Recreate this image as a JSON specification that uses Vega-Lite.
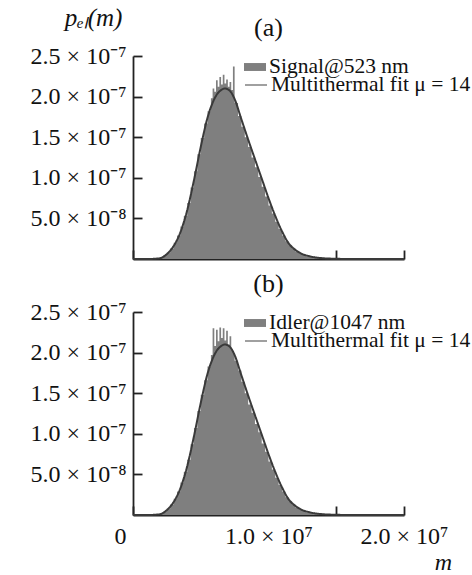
{
  "$schema": "https://vega.github.io/schema/vega-lite/v6.json",
  "padding": {"left": 30, "top": 5, "right": 0, "bottom": 0},
  "config": {
    "font": "Liberation Serif",
    "view": {"stroke": null},
    "axis": {"grid": false, "domainColor": "#222", "domainWidth": 1.8, "tickColor": "#222", "tickWidth": 1.8, "labelFont": "Liberation Serif", "labelFontSize": 24, "labelColor": "#111", "titleFont": "Liberation Serif", "titleColor": "#111", "titleFontWeight": "normal"},
    "title": {"font": "Liberation Serif", "fontSize": 26, "fontWeight": "normal", "color": "#111", "frame": "group"},
    "legend": {"title": null, "padding": 0, "labelFont": "Liberation Serif", "labelFontSize": 21.5, "labelColor": "#111", "labelOffset": 3, "labelLimit": 0, "symbolSize": 484}
  },
  "datasets": {
    "fit": [
      {"m": 0, "p": 0}, {"m": 1, "p": 0}, {"m": 1.5, "p": 0.002}, {"m": 2, "p": 0.01}, {"m": 2.5, "p": 0.06},
      {"m": 3, "p": 0.16}, {"m": 3.5, "p": 0.33}, {"m": 4, "p": 0.6}, {"m": 4.5, "p": 0.97}, {"m": 5, "p": 1.38},
      {"m": 5.5, "p": 1.74}, {"m": 6, "p": 1.97}, {"m": 6.25, "p": 2.04}, {"m": 6.5, "p": 2.08}, {"m": 6.75, "p": 2.1},
      {"m": 7, "p": 2.09}, {"m": 7.25, "p": 2.05}, {"m": 7.5, "p": 1.97}, {"m": 8, "p": 1.72}, {"m": 8.5, "p": 1.47},
      {"m": 9, "p": 1.23}, {"m": 9.5, "p": 0.99}, {"m": 10, "p": 0.75}, {"m": 10.5, "p": 0.53}, {"m": 11, "p": 0.34},
      {"m": 11.5, "p": 0.19}, {"m": 12, "p": 0.11}, {"m": 12.5, "p": 0.06}, {"m": 13, "p": 0.035}, {"m": 14, "p": 0.01},
      {"m": 15, "p": 0.003}, {"m": 16, "p": 0}, {"m": 20, "p": 0}
    ],
    "histA": [
      {"m": 0, "p": 0}, {"m": 1.5, "p": 0.003}, {"m": 1.75, "p": 0.008}, {"m": 2, "p": 0.02}, {"m": 2.25, "p": 0.045},
      {"m": 2.5, "p": 0.08}, {"m": 2.75, "p": 0.13}, {"m": 3, "p": 0.2}, {"m": 3.25, "p": 0.29}, {"m": 3.5, "p": 0.4},
      {"m": 3.75, "p": 0.53}, {"m": 4, "p": 0.69}, {"m": 4.25, "p": 0.88}, {"m": 4.5, "p": 1.08}, {"m": 4.75, "p": 1.29},
      {"m": 5, "p": 1.49}, {"m": 5.25, "p": 1.67}, {"m": 5.5, "p": 1.82}, {"m": 5.75, "p": 1.98}, {"m": 5.875, "p": 2.1},
      {"m": 6, "p": 2.06}, {"m": 6.125, "p": 2.2}, {"m": 6.25, "p": 2.12}, {"m": 6.375, "p": 2.24}, {"m": 6.5, "p": 2.15},
      {"m": 6.625, "p": 2.27}, {"m": 6.75, "p": 2.16}, {"m": 6.875, "p": 2.21}, {"m": 7, "p": 2.12}, {"m": 7.125, "p": 2.18},
      {"m": 7.25, "p": 2.08}, {"m": 7.375, "p": 2.37}, {"m": 7.5, "p": 1.92},
      {"m": 7.75, "p": 1.76}, {"m": 8, "p": 1.63}, {"m": 8.25, "p": 1.5}, {"m": 8.5, "p": 1.38},
      {"m": 8.75, "p": 1.25}, {"m": 9, "p": 1.13}, {"m": 9.25, "p": 1.01}, {"m": 9.5, "p": 0.89}, {"m": 9.75, "p": 0.77},
      {"m": 10, "p": 0.66}, {"m": 10.25, "p": 0.56}, {"m": 10.5, "p": 0.46}, {"m": 10.75, "p": 0.37}, {"m": 11, "p": 0.29},
      {"m": 11.25, "p": 0.22}, {"m": 11.5, "p": 0.17}, {"m": 11.75, "p": 0.125}, {"m": 12, "p": 0.09}, {"m": 12.25, "p": 0.07},
      {"m": 12.5, "p": 0.05}, {"m": 12.75, "p": 0.035}, {"m": 13, "p": 0.025}, {"m": 13.5, "p": 0.015}, {"m": 14, "p": 0.008},
      {"m": 14.5, "p": 0.004}, {"m": 15, "p": 0}, {"m": 20, "p": 0}
    ],
    "histB": [
      {"m": 0, "p": 0}, {"m": 1.5, "p": 0.003}, {"m": 1.75, "p": 0.007}, {"m": 2, "p": 0.02}, {"m": 2.25, "p": 0.04},
      {"m": 2.5, "p": 0.08}, {"m": 2.75, "p": 0.13}, {"m": 3, "p": 0.2}, {"m": 3.25, "p": 0.29}, {"m": 3.5, "p": 0.4},
      {"m": 3.75, "p": 0.53}, {"m": 4, "p": 0.68}, {"m": 4.25, "p": 0.87}, {"m": 4.5, "p": 1.07}, {"m": 4.75, "p": 1.28},
      {"m": 5, "p": 1.48}, {"m": 5.25, "p": 1.66}, {"m": 5.5, "p": 1.83}, {"m": 5.75, "p": 1.97}, {"m": 5.875, "p": 2.3},
      {"m": 6, "p": 2.08}, {"m": 6.125, "p": 2.28}, {"m": 6.25, "p": 2.14}, {"m": 6.375, "p": 2.31}, {"m": 6.5, "p": 2.18},
      {"m": 6.625, "p": 2.3}, {"m": 6.75, "p": 2.15}, {"m": 6.875, "p": 2.27}, {"m": 7, "p": 2.1}, {"m": 7.125, "p": 2.2},
      {"m": 7.25, "p": 2.04}, {"m": 7.375, "p": 1.99}, {"m": 7.5, "p": 1.9},
      {"m": 7.75, "p": 1.78}, {"m": 8, "p": 1.64}, {"m": 8.25, "p": 1.5}, {"m": 8.5, "p": 1.36},
      {"m": 8.75, "p": 1.26}, {"m": 9, "p": 1.12}, {"m": 9.25, "p": 1.02}, {"m": 9.5, "p": 0.88}, {"m": 9.75, "p": 0.78},
      {"m": 10, "p": 0.66}, {"m": 10.25, "p": 0.56}, {"m": 10.5, "p": 0.46}, {"m": 10.75, "p": 0.37}, {"m": 11, "p": 0.29},
      {"m": 11.25, "p": 0.22}, {"m": 11.5, "p": 0.17}, {"m": 11.75, "p": 0.125}, {"m": 12, "p": 0.09}, {"m": 12.25, "p": 0.07},
      {"m": 12.5, "p": 0.05}, {"m": 12.75, "p": 0.035}, {"m": 13, "p": 0.025}, {"m": 13.5, "p": 0.015}, {"m": 14, "p": 0.008},
      {"m": 14.5, "p": 0.004}, {"m": 15, "p": 0}, {"m": 20, "p": 0}
    ]
  },
  "spacing": 8,
  "resolve": {"scale": {"color": "independent", "strokeDash": "independent"}, "legend": {"color": "independent", "strokeDash": "independent"}},
  "vconcat": [
    {
      "width": 271, "height": 203,
      "title": {"text": "(a)", "offset": 0, "dy": 36},
      "layer": [
        {
          "data": {"name": "histA"},
          "mark": {"type": "area", "interpolate": "step-after"},
          "encoding": {
            "x": {"field": "m", "type": "quantitative", "scale": {"domain": [0, 20], "nice": false},
                  "axis": {"values": [0, 5, 10, 15, 20], "labels": false, "tickSize": -9, "title": null}},
            "y": {"field": "p", "type": "quantitative", "scale": {"domain": [0, 2.5], "nice": false},
                  "axis": {"values": [0.5, 1, 1.5, 2, 2.5], "tickSize": -9, "labelPadding": 16,
                           "labelExpr": "datum.value == 0.5 ? '5.0 × 10⁻⁸' : format(datum.value, '.1f') + ' × 10⁻⁷'",
                           "title": "pₑₗ(m)", "titleAngle": 0, "titleX": -40, "titleY": -31, "titleAlign": "center", "titleBaseline": "alphabetic", "titleFontStyle": "italic", "titleFontSize": 25}},
            "color": {"datum": "Signal@523 nm",
                      "scale": {"domain": ["Signal@523 nm"], "range": ["#7f7f7f"]},
                      "legend": {"orient": "none", "legendX": 111, "legendY": 0, "symbolType": "M-1,-0.36H1V0.36H-1Z", "symbolStrokeWidth": 0}}
          }
        },
        {
          "data": {"name": "fit"},
          "mark": {"type": "line", "interpolate": "monotone", "strokeWidth": 2, "color": "#3a3a3a"},
          "encoding": {
            "x": {"field": "m", "type": "quantitative"},
            "y": {"field": "p", "type": "quantitative"},
            "strokeDash": {"datum": "Multithermal fit μ = 14",
                           "scale": {"domain": ["Multithermal fit μ = 14"], "range": [[1, 0]]},
                           "legend": {"orient": "none", "legendX": 111, "legendY": 17, "symbolType": "stroke", "symbolStrokeColor": "#a0a0a0", "symbolStrokeWidth": 2}}
          }
        }
      ]
    },
    {
      "width": 271, "height": 203,
      "title": {"text": "(b)", "offset": 3},
      "layer": [
        {
          "data": {"name": "histB"},
          "mark": {"type": "area", "interpolate": "step-after"},
          "encoding": {
            "x": {"field": "m", "type": "quantitative", "scale": {"domain": [0, 20], "nice": false},
                  "axis": {"values": [0, 5, 10, 15, 20], "tickSize": -9, "labelPadding": 18, "labelFlush": false,
                           "labelOffset": {"condition": {"test": "datum.value == 0", "value": -13}, "value": 0},
                           "labelExpr": "datum.value == 0 ? '0' : datum.value == 10 ? '1.0 × 10⁷' : datum.value == 20 ? '2.0 × 10⁷' : ''",
                           "title": "m", "titleFontStyle": "italic", "titleFontSize": 24, "titleX": 310, "titleY": 54, "titleAlign": "center", "titleBaseline": "alphabetic"}},
            "y": {"field": "p", "type": "quantitative", "scale": {"domain": [0, 2.5], "nice": false},
                  "axis": {"values": [0.5, 1, 1.5, 2, 2.5], "tickSize": -9, "labelPadding": 16,
                           "labelExpr": "datum.value == 0.5 ? '5.0 × 10⁻⁸' : format(datum.value, '.1f') + ' × 10⁻⁷'",
                           "title": null}},
            "color": {"datum": "Idler@1047 nm",
                      "scale": {"domain": ["Idler@1047 nm"], "range": ["#7f7f7f"]},
                      "legend": {"orient": "none", "legendX": 111, "legendY": 0, "symbolType": "M-1,-0.36H1V0.36H-1Z", "symbolStrokeWidth": 0}}
          }
        },
        {
          "data": {"name": "fit"},
          "mark": {"type": "line", "interpolate": "monotone", "strokeWidth": 2, "color": "#3a3a3a"},
          "encoding": {
            "x": {"field": "m", "type": "quantitative"},
            "y": {"field": "p", "type": "quantitative"},
            "strokeDash": {"datum": "Multithermal fit μ = 14",
                           "scale": {"domain": ["Multithermal fit μ = 14"], "range": [[1, 0]]},
                           "legend": {"orient": "none", "legendX": 111, "legendY": 17, "symbolType": "stroke", "symbolStrokeColor": "#a0a0a0", "symbolStrokeWidth": 2}}
          }
        }
      ]
    }
  ]
}
